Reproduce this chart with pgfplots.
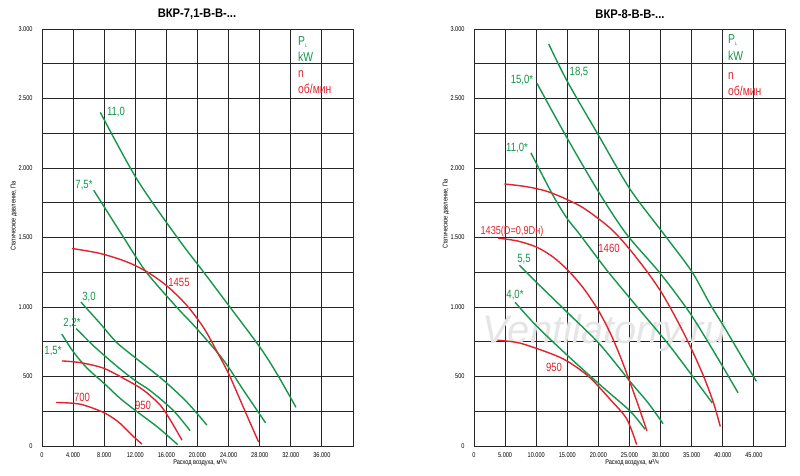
\documentclass[border=0pt]{standalone}
\usepackage{pgfplots}
\pgfplotsset{compat=1.18}
\usepackage{fontspec}
\setmainfont{Liberation Sans}
\newfontfamily\narrow[FakeStretch=0.8]{Liberation Sans}
\newfontfamily\titlefont[FakeStretch=0.9]{Liberation Sans}
\definecolor{cg}{RGB}{20,150,75}
\definecolor{cr}{RGB}{225,35,45}
\newcommand{\tickf}{\narrow\fontsize{7}{7}\selectfont}
\newcommand{\labf}{\narrow\fontsize{12}{12}\selectfont}
\pgfplotsset{
  bkstyle/.style={
    width=311bp, height=417bp, scale only axis,
    ymin=0, ymax=3000,
    scaled x ticks=false, scaled y ticks=false,
    ytick={0,250,...,3000},
    yticklabels={0,,500,,1.000,,1.500,,2.000,,2.500,,3.000},
    grid=major,
    major grid style={black!85, line width=0.9bp},
    axis line style={black!85, line width=0.9bp},
    major tick length=0pt,
    tick style={draw=none},
    ticklabel style={font=\tickf},
    yticklabel style={anchor=east, xshift=-6bp},
    xticklabel style={anchor=north, yshift=-3bp},
    clip=false,
  },
  gl/.style={cg, line width=1.4bp, smooth, tension=0.5, no markers},
  rl/.style={cr, line width=1.4bp, smooth, tension=0.5, no markers},
}
\begin{document}
\begin{tikzpicture}
\path[use as bounding box] (0,0) rectangle (800bp,476bp);
% ---------------- left chart ----------------
\begin{axis}[bkstyle, at={(42bp,30bp)}, anchor=south west,
  xmin=0, xmax=40000,
  xtick={0,4000,...,40000},
  xticklabels={0,4.000,8.000,12.000,16.000,20.000,24.000,28.000,32.000,36.000,{}},
]
% green: power
\addplot[gl] coordinates {(7500,2400) (12200,1920) (17400,1500) (20800,1250) (24100,1005) (28000,713) (30200,521) (32670,278)};
\addplot[gl] coordinates {(6650,1840) (10500,1500) (13400,1252) (17300,1000) (19900,845) (23350,617) (25900,402) (28750,167)};
\addplot[gl] coordinates {(5000,1036) (7500,880) (9600,745) (12000,635) (15600,474) (18600,318) (21200,151)};
\addplot[gl] coordinates {(4400,845) (6600,722) (9600,575) (12000,470) (14000,395) (16900,255) (19050,110)};
\addplot[gl] coordinates {(2550,805) (4000,680) (5800,560) (8000,450) (10000,345) (12100,252) (14800,139) (17450,10)};
% red: speed
\addplot[rl] coordinates {(3860,1421) (7500,1385) (10900,1325) (13500,1253) (16100,1150) (18650,1010) (20800,850) (22500,680) (24000,521) (25500,330) (26800,163) (27870,28)};
\addplot[rl] coordinates {(2550,612) (4900,600) (7900,560) (10900,474) (13050,402) (15200,294) (16500,187) (18000,43)};
\addplot[rl] coordinates {(1800,313) (4900,301) (8000,239) (10000,165) (11550,79) (12850,14)};
\end{axis}
% ---------------- right chart ----------------
\begin{axis}[bkstyle, at={(474bp,30bp)}, anchor=south west,
  xmin=0, xmax=50000,
  xtick={0,5000,...,50000},
  xticklabels={0,5.000,10.000,15.000,20.000,25.000,30.000,35.000,40.000,45.000,{}},
]
\node[font=\itshape\fontsize{40}{40}\selectfont, text=gray!20] at (axis cs:21000,813) {Ventilatorry.ru};
\addplot[gl] coordinates {(12000,2893) (15000,2623) (20100,2229) (25100,1847) (30600,1520) (35000,1256) (37900,1025) (40300,850) (43200,630) (45400,465)};
\addplot[gl] coordinates {(10100,2611) (15100,2205) (20100,1823) (24500,1525) (29900,1244) (34700,957) (39000,646) (42450,383)};
\addplot[gl] coordinates {(9150,2109) (12750,1799) (15050,1632) (16900,1528) (21300,1268) (26150,1005) (31500,718) (36300,431) (38300,310)};
\addplot[gl] coordinates {(7300,1300) (10100,1175) (15150,955) (20250,730) (25350,450) (28000,310) (30400,160)};
\addplot[gl] coordinates {(6600,1034) (10100,861) (15450,634) (20800,419) (25100,251) (27500,120)};
\addplot[rl] coordinates {(4880,1885) (8500,1865) (12200,1825) (17050,1727) (20800,1608) (22800,1528) (25100,1411) (27800,1256) (30200,1100) (32600,909) (34750,718) (36900,503) (38500,311) (39600,140)};
\addplot[rl] coordinates {(3900,1495) (7000,1475) (10100,1430) (12700,1360) (15150,1262) (17600,1135) (20000,975) (21900,813) (23500,646) (25100,455) (26450,287) (27800,108)};
\addplot[rl] coordinates {(3750,761) (7400,740) (12750,658) (15450,598) (18650,491) (21900,335) (24550,195) (26150,10)};
\end{axis}
% ---------------- titles and labels ----------------
\node[font=\titlefont\bfseries\fontsize{12.5}{12.5}\selectfont] at (197bp,462bp) {ВКР-7,1-В-В-...};
\node[font=\titlefont\bfseries\fontsize{12.5}{12.5}\selectfont] at (630bp,462bp) {ВКР-8-В-В-...};
\node[font=\tickf, rotate=90] at (14bp,260bp) {Статическое давление, Па};
\node[font=\tickf, rotate=90] at (446bp,262bp) {Статическое давление, Па};
\node[font=\tickf] at (200bp,13bp) {Расход воздуха, м³/ч};
\node[font=\tickf] at (632bp,13bp) {Расход воздуха, м³/ч};
% legends
\begin{scope}[every node/.style={anchor=west, inner sep=0pt, font=\narrow\fontsize{13}{13}\selectfont}]
\node[text=cg] at (298bp,434bp) {P\raisebox{-2.5bp}{\fontsize{5}{5}\selectfont L}};
\node[text=cg] at (298bp,419bp) {kW};
\node[text=cr] at (298bp,402bp) {n};
\node[text=cr] at (298bp,387bp) {об/мин};
\node[text=cg] at (728bp,436bp) {P\raisebox{-2.5bp}{\fontsize{5}{5}\selectfont L}};
\node[text=cg] at (728bp,420bp) {kW};
\node[text=cr] at (728bp,400bp) {n};
\node[text=cr] at (728bp,385bp) {об/мин};
\end{scope}
% curve labels
\begin{scope}[every node/.style={inner sep=0pt, font=\labf}]
\node[text=cg] at (116bp,364bp) {11,0};
\node[text=cg] at (84bp,291bp) {7,5*};
\node[text=cg] at (89bp,179bp) {3,0};
\node[text=cg] at (72bp,153bp) {2,2*};
\node[text=cg] at (53bp,125bp) {1,5*};
\node[text=cr] at (179bp,194bp) {1455};
\node[text=cr] at (143bp,71bp) {950};
\node[text=cr] at (82bp,79bp) {700};
\node[text=cg] at (579bp,404bp) {18,5};
\node[text=cg] at (522bp,396bp) {15,0*};
\node[text=cg] at (517bp,328bp) {11,0*};
\node[text=cr, font=\narrow\fontsize{11.5}{11.5}\selectfont] at (512bp,244bp) {1435(D=0,9Dн)};
\node[text=cr] at (609bp,228bp) {1460};
\node[text=cg] at (524bp,217bp) {5,5};
\node[text=cg] at (515bp,181bp) {4,0*};
\node[text=cr] at (554bp,109bp) {950};
\end{scope}
\end{tikzpicture}
\end{document}
